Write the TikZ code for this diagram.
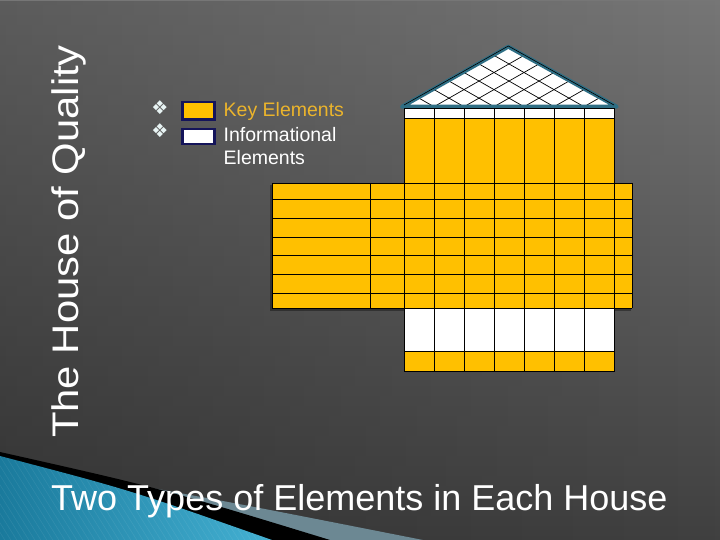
\documentclass[tikz,border=0pt]{standalone}
\usepackage{fontspec}
\usepackage{graphicx}
\setmainfont{Liberation Sans}
\newfontfamily\dejavu{DejaVu Sans}
\usetikzlibrary{fadings}
\definecolor{gold}{HTML}{FFC000}
\definecolor{keytext}{HTML}{EBB42C}
\definecolor{roofedge}{HTML}{2E6E84}
\definecolor{navy}{HTML}{14145A}
\definecolor{tealA}{HTML}{1A7A9C}
\definecolor{tealB}{HTML}{45B2D4}
\definecolor{bandgray}{HTML}{6C8893}
\tikzset{
  gridline/.style={black, line width=0.9pt},
  keybox/.style={draw=navy, line width=2.6pt, fill=gold},
  infobox/.style={draw=navy, line width=2.6pt, fill=white},
  legendtext/.style={anchor=base west, inner sep=0pt, font=\fontsize{19.5}{22}\selectfont},
  bulletmark/.style={text={rgb,255:red,232;green,244;blue,244}, inner sep=0pt, font=\dejavu\fontsize{19}{20}\selectfont}
}
\begin{document}
\begin{tikzpicture}[x=1pt, y=-1pt]
\useasboundingbox (0,0) rectangle (720,540);
% background
\shade[top color={rgb,255:red,118;green,118;blue,118}, bottom color={rgb,255:red,64;green,64;blue,64}] (0,0) rectangle (720,540);
\fill[black, opacity=0.22, path fading=east] (0,0) rectangle (720,540);
% swoosh
\fill[bandgray] (50,470) .. controls (220,500) .. (423,540) -- (50,540) -- cycle;
\fill[black] (0,452) .. controls (160,488) .. (330,540) -- (0,540) -- cycle;
\begin{scope}
\clip (0,456) .. controls (130,490) .. (272,540) -- (0,540) -- cycle;
\shade[left color=tealA, right color=tealB] (0,450) rectangle (280,540);
\foreach \s in {-100,-94,...,300} \draw[white, opacity=0.07, line width=0.6pt] (\s,450) -- ++(60,95);
\end{scope}
% title
\node[rotate=90, anchor=base west, inner sep=0pt, text=white, font=\fontsize{37}{40}\selectfont] (title) at (78,438) {\scalebox{1.13}[1]{The House of Quality}};
\node[anchor=base west, inner sep=0pt, text=white, font=\fontsize{36}{40}\selectfont] (subtitle) at (51,510) {Two Types of Elements in Each House};
% legend
\node[bulletmark] (b1) at (160,108) {❖};
\node[bulletmark] (b2) at (160,131) {❖};
\draw[keybox] (182.5,102) rectangle (214.5,119.5);
\draw[infobox] (182.5,129) rectangle (214.5,144);
\node[legendtext, text=keytext] (key) at (223.5,116.7) {Key Elements};
\node[legendtext, text=white] (info1) at (223.5,141.7) {Informational};
\node[legendtext, text=white] (info2) at (223.5,165) {Elements};
% roof
\fill[white] (402,106.7) -- (508.3,46.7) -- (616.7,106.7) -- cycle;
\begin{scope}
\clip (402,106.7) -- (508.3,46.7) -- (616.7,106.7) -- cycle;
\foreach \b in {434,464,494,524,554,584} {
  \draw[black, line width=0.7pt] (\b,106.7) -- ++(200,-114);
  \draw[black, line width=0.7pt] (\b,106.7) -- ++(-200,-114);
}
\end{scope}
\draw[roofedge, line width=4pt, line join=round] (402,106.7) -- (508.3,46.7) -- (616.7,106.7) -- cycle;
\draw[black, line width=0.6pt] (404,105) -- (508.3,46) -- (614,105);
% upper block
\fill[white] (404,108.5) rectangle (614,118);
\fill[gold] (404,118) rectangle (614,183);
\draw[gridline] (404,108.5) -- (614,108.5);
\draw[black, line width=0.5pt] (404,118) -- (614,118);
\foreach \x in {404,434,464,494,524,554,584.5,614} \draw[gridline] (\x,108.5) -- (\x,183);
% middle block with shadow
\fill[black, opacity=0.35] (270,185) rectangle (631,310.5);
\fill[gold] (272,183) rectangle (632,308);
\foreach \y in {183,199.3,218.3,237.3,255.7,274.3,293.3,308} \draw[gridline] (272,\y) -- (632,\y);
\foreach \x in {272,370,404,434,464,494,524,554,584.5,614,632} \draw[gridline] (\x,183) -- (\x,308);
% lower block
\fill[white] (404,309.3) rectangle (614,351);
\fill[gold] (404,351) rectangle (614,371.7);
\draw[gridline] (404,351) -- (614,351);
\draw[gridline] (404,371.7) -- (614,371.7);
\foreach \x in {404,434,464,494,524,554,584.5,614} \draw[gridline] (\x,308) -- (\x,371.7);
\end{tikzpicture}
\end{document}
